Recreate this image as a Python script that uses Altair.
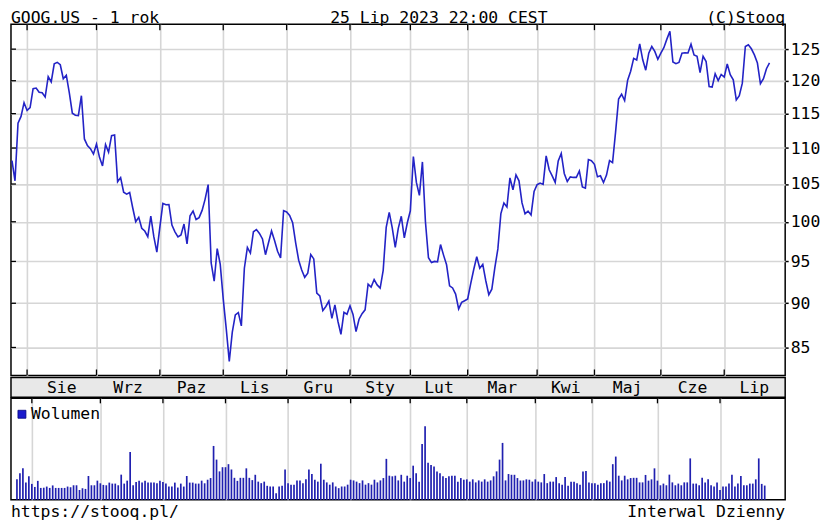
import altair as alt
import pandas as pd

# ---------------- data ----------------
holidays = ["2022-09-05", "2022-11-24", "2022-12-26", "2023-01-02", "2023-01-16",
            "2023-02-20", "2023-04-07", "2023-05-29", "2023-06-19", "2023-07-04"]
all_days = pd.bdate_range("2022-07-25", "2023-07-25")
dates = all_days[~all_days.isin(pd.to_datetime(holidays))]

close_jul22 = [108.21, 105.44, 113.60, 114.59, 116.64]
close_aug22 = [115.48, 115.90, 118.78, 118.87, 118.22, 118.14, 117.50, 120.65, 119.82, 122.65,
               122.88, 122.51, 120.32, 120.86, 118.12, 115.07, 114.77, 114.70, 117.70, 111.30,
               110.34, 109.91, 109.15]
close_sep22 = [110.55, 108.68, 107.48, 110.48, 109.42, 111.78, 111.87, 105.31, 105.87, 103.90,
               103.63, 103.85, 101.83, 100.01, 100.57, 99.17, 98.81, 98.09, 100.74, 98.09, 96.15]
close_oct22 = [99.30, 102.41, 102.22, 102.24, 99.57, 98.71, 98.05, 98.30, 99.71, 97.18,
               100.78, 101.39, 100.29, 100.53, 101.48, 102.97, 104.93, 94.82, 92.60, 96.58, 94.66]
close_nov22 = [90.50, 87.07, 83.49, 86.70, 88.65, 88.91, 87.40, 94.17, 96.73, 96.03,
               98.72, 98.99, 98.50, 97.80, 95.83, 97.33, 98.82, 97.60, 96.25, 95.44, 101.45]
close_dec22 = [101.28, 100.83, 99.87, 97.31, 95.15, 93.95, 93.07, 93.56, 95.85, 95.31,
               91.20, 90.86, 89.15, 89.63, 90.25, 88.26, 89.81, 87.93, 86.46, 88.95, 88.73]
close_jan23 = [89.70, 88.71, 86.77, 88.16, 88.80, 89.24, 92.26, 91.91, 92.80, 92.16,
               91.78, 93.91, 99.28, 101.21, 99.21, 96.73, 99.16, 100.71, 97.95, 99.87]
close_feb23 = [101.43, 108.80, 105.22, 103.47, 108.04, 100.00, 95.46, 94.86, 95.00, 94.95,
               97.10, 95.78, 94.59, 92.05, 91.80, 91.07, 89.35, 90.10, 90.30]
close_mar23 = [90.51, 92.31, 94.02, 95.58, 94.17, 94.65, 92.66, 91.01, 91.66, 94.25,
               96.55, 101.07, 102.46, 101.93, 105.84, 104.22, 106.26, 105.44, 102.46, 101.03,
               101.39, 100.89, 104.00]
close_apr23 = [104.91, 105.12, 104.95, 108.90, 106.95, 106.12, 105.22, 108.19, 109.24, 106.44,
               105.35, 105.97, 105.90, 105.91, 106.78, 104.61, 104.45, 108.37, 108.22]
close_may23 = [107.71, 105.98, 106.12, 105.21, 106.22, 108.24, 107.94, 112.28, 117.20, 117.92,
               116.96, 120.09, 121.48, 123.52, 123.25, 125.87, 123.29, 121.64, 124.35, 125.43,
               124.64, 123.37]
close_jun23 = [124.37, 125.23, 126.63, 127.91, 122.94, 122.67, 122.87, 124.35, 124.43, 124.38,
               125.79, 124.06, 123.85, 121.26, 123.87, 123.02, 119.09, 119.01, 121.08, 120.01,
               120.97]
close_jul23 = [120.56, 122.63, 120.93, 120.14, 117.07, 117.71, 119.62, 125.42, 125.70, 125.06,
               124.08, 122.78, 119.53, 120.31, 121.88, 122.79]

close = (close_jul22 + close_aug22 + close_sep22 + close_oct22 + close_nov22 + close_dec22 +
         close_jan23 + close_feb23 + close_mar23 + close_apr23 + close_may23 + close_jun23 +
         close_jul23)

volume = [
    27, 35, 41.5, 23, 31, 21, 17, 25, 15.7, 16, 17.5, 15.7, 19, 15.7, 15.7, 15.7, 15.7, 17.5, 16.6, 19.2,
    19.2, 13, 15.3, 14.4, 31.4, 19.2, 19.2, 25.3, 21.8, 19.7, 19.2, 22.7, 21.4, 21.4, 19.2, 33.2, 21.4, 25.3, 63, 19.2,
    23.6, 25.3, 22.7, 25.3, 22.7, 22.7, 22.7, 21.8, 25.3, 23.6, 21.4, 17.5, 17.5, 22.7, 16.2, 21.4, 17.5, 31.4, 22.7, 22.7,
    21.4, 21.4, 25.3, 21.8, 26.5, 28.7, 71, 53, 37.5, 43, 43, 47, 40, 29, 25, 29, 29, 41.5, 29, 26,
    33, 24, 22, 24, 18.5, 17.6, 17.6, 8.8, 17.6, 18.5, 40, 22, 20, 20, 25.6, 25.6, 22, 27, 40, 34,
    26.5, 24, 47.6, 26.5, 23, 20, 23, 17.6, 15.4, 17.6, 17.6, 20, 26.5, 25.6, 24, 22, 25.6, 20, 22, 20,
    26.5, 23, 25.6, 28.7, 54, 31.8, 31, 31.8, 25.6, 33, 24, 31.8, 28.7, 45, 35, 24, 73.6, 97, 49, 46,
    44, 37.5, 35, 31, 28.7, 31, 31.8, 31.8, 24, 28.7, 26.5, 27, 24, 27, 23, 25.6, 24, 27, 24, 25.6,
    31, 37.5, 53, 75, 25.6, 34, 33, 33, 28.7, 25.6, 25.6, 27, 26.5, 24, 27, 24, 23, 34, 22, 24,
    24, 30, 22, 20, 30, 18.5, 24, 24, 22, 20, 37.5, 38, 23, 22, 22, 20, 22, 22, 25.6, 24,
    47, 57, 31.8, 25.6, 31.8, 27, 28.7, 29, 29, 23, 23, 32.8, 25.3, 27, 41.5, 25.3, 19.2, 21.4, 19.2, 33.2,
    23, 19.2, 21.4, 19.2, 23, 23, 54.6, 21.4, 21.4, 19.2, 29, 23, 27, 19.2, 17.5, 23, 13.1, 17.5, 17.5, 21.4,
    33.2, 17.5, 21.4, 31.4, 19.2, 19.2, 21.4, 21.4, 27, 54.6, 21, 18.8,
]

month_names = ["Sie", "Wrz", "Paz", "Lis", "Gru", "Sty", "Lut", "Mar", "Kwi", "Maj", "Cze", "Lip"]
price_ticks = [85, 90, 95, 100, 105, 110, 115, 120, 125]
title_left = "GOOG.US - 1 rok"
title_center = "25 Lip 2023 22:00 CEST"
title_right = "(C)Stooq"
footer_left = "https://stooq.pl/"
footer_right = "Interwal Dzienny"
legend_label = "Wolumen"

# ---------------- derived tables ----------------
n = len(dates)
df = pd.DataFrame({"i": list(range(n)), "close": close[:n], "vol": volume[:n]})
month_starts = [i for i in range(1, n) if dates[i].month != dates[i - 1].month]
# index where August 2023 would start (July 2023 has 20 sessions)
month_ends = month_starts[1:] + [month_starts[-1] + 20]
months_df = pd.DataFrame({
    "name": month_names,
    "mid": [(a + b) / 2 for a, b in zip(month_starts, month_ends)],
})
starts_df = pd.DataFrame({"i": month_starts})
levels_df = pd.DataFrame({"close": price_ticks})

# ---------------- styling ----------------
W = 778
H1 = 353
H2 = 20
H3 = 102
FONT = "DejaVu Sans Mono"
FS = 16.5
BLUE = "#2323c6"
VBLUE = "#2020b0"
GRID = "#d6d6d6"

xscale = alt.Scale(domain=[-0.33, 256.2], nice=False, zero=False)
yscale = alt.Scale(type="log", domain=[81.98, 129.1], nice=False, zero=False)
xgrid_axis = alt.Axis(values=month_starts, labels=False, ticks=False, domain=False, title=None,
                      grid=True, gridColor=GRID, gridWidth=1.6)
y_axis = alt.Axis(orient="right", values=price_ticks, title=None, grid=True,
                  gridColor=GRID, gridWidth=1.6, domain=False, tickSize=3,
                  tickColor="black", tickWidth=1.5, labelPadding=2,
                  labelFont=FONT, labelFontSize=FS, labelColor="black")

# ---------------- price panel ----------------
price_line = alt.Chart(df).mark_line(color=BLUE, strokeWidth=1.6).encode(
    x=alt.X("i:Q", scale=xscale, axis=xgrid_axis),
    y=alt.Y("close:Q", scale=yscale, axis=y_axis),
)
top_ticks = alt.Chart(starts_df).mark_rule(color="black", strokeWidth=1.3).encode(
    x=alt.X("i:Q", scale=xscale, axis=xgrid_axis), y=alt.value(0), y2=alt.value(6))
bottom_ticks = alt.Chart(starts_df).mark_rule(color="black", strokeWidth=1.3).encode(
    x=alt.X("i:Q", scale=xscale, axis=xgrid_axis), y=alt.value(H1 - 6), y2=alt.value(H1))
left_ticks = alt.Chart(levels_df).mark_rule(color="black", strokeWidth=1.3).encode(
    y=alt.Y("close:Q", scale=yscale, axis=y_axis), x=alt.value(0), x2=alt.value(5))


def label(text, x, y, align):
    return alt.Chart(pd.DataFrame({"t": [text]})).mark_text(
        font=FONT, fontSize=FS, align=align, baseline="alphabetic", color="black"
    ).encode(x=alt.value(x), y=alt.value(y), text="t:N")


titles = label(title_left, 0, -1, "left") + label(title_center, 430, -1, "center") + \
    label(title_right, W, -1, "right")

price = alt.layer(price_line, top_ticks, bottom_ticks, left_ticks, titles).properties(
    width=W, height=H1)

# ---------------- month band ----------------
band = alt.Chart(months_df).mark_text(
    font=FONT, fontSize=FS, baseline="middle", color="black"
).encode(
    x=alt.X("mid:Q", scale=xscale, axis=None),
    y=alt.value(H2 / 2 + 1),
    text="name:N",
).properties(width=W, height=H2,
             view=alt.ViewBackground(fill="#e8e8e8", stroke="black", strokeWidth=1.5))

# ---------------- volume panel ----------------
vscale = alt.Scale(domain=[0, 133.7], nice=False)
vol_bars = alt.Chart(df).mark_bar(color=VBLUE, size=1.7).encode(
    x=alt.X("i:Q", scale=xscale, axis=xgrid_axis),
    y=alt.Y("vol:Q", scale=vscale, axis=None),
)
vol_ticks = alt.Chart(starts_df).mark_rule(color="black", strokeWidth=1.3).encode(
    x=alt.X("i:Q", scale=xscale, axis=xgrid_axis), y=alt.value(0), y2=alt.value(5))
legend_sq = alt.Chart(pd.DataFrame({"t": [legend_label]})).mark_rect(
    color="#1a1acc", stroke="#000080", strokeWidth=0.8
).encode(x=alt.value(7), x2=alt.value(15), y=alt.value(12), y2=alt.value(20))
legend_txt = label(legend_label, 20, 21, "left")
footers = label(footer_left, 0, H3 + 17, "left") + label(footer_right, W, H3 + 17, "right")

vol = alt.layer(vol_bars, vol_ticks, legend_sq, legend_txt, footers).properties(
    width=W, height=H3)

chart = alt.vconcat(price, band, vol, spacing=-3).properties(
    padding=0, background="white"
).configure_view(stroke="black", strokeWidth=1.5)

chart.save("out.html", embed_options={"renderer": "svg", "actions": False})
